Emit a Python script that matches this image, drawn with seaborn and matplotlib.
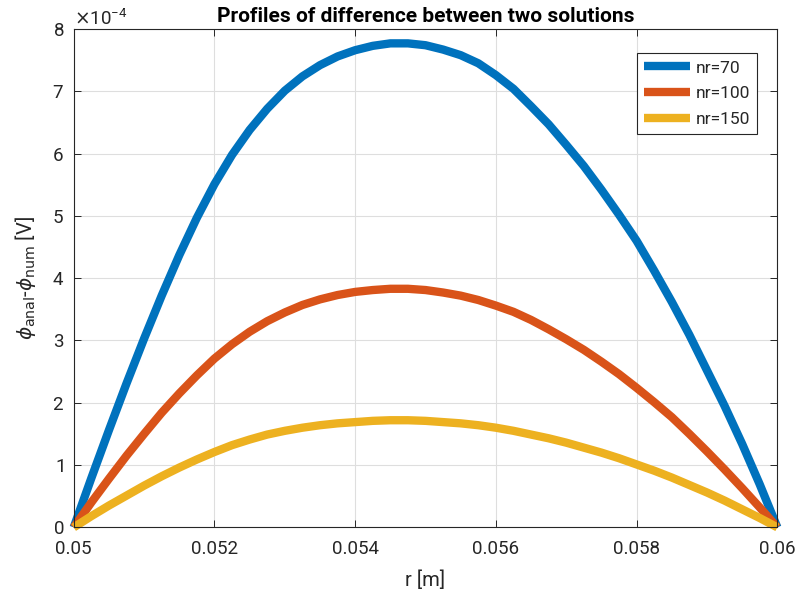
import matplotlib
matplotlib.use("Agg")
import matplotlib.pyplot as plt
import pandas as pd
import seaborn as sns
from matplotlib.ticker import FuncFormatter, MultipleLocator

# Radial positions [m]
r = [0.05000, 0.05025, 0.05050, 0.05075, 0.05100, 0.05125, 0.05150, 0.05175,
     0.05200, 0.05225, 0.05250, 0.05275, 0.05300, 0.05325, 0.05350, 0.05375,
     0.05400, 0.05425, 0.05450, 0.05475, 0.05500, 0.05525, 0.05550, 0.05575,
     0.05600, 0.05625, 0.05650, 0.05675, 0.05700, 0.05725, 0.05750, 0.05775,
     0.05800, 0.05825, 0.05850, 0.05875, 0.05900, 0.05925, 0.05950, 0.05975,
     0.06000]

# phi_anal - phi_num, in units of 1e-4 V, for each grid resolution
diff_nr70 = [0.00, 0.79, 1.56, 2.31, 3.03, 3.72, 4.37, 4.97, 5.51, 5.98, 6.38,
             6.72, 7.01, 7.24, 7.42, 7.56, 7.66, 7.73, 7.77, 7.77, 7.74, 7.67,
             7.58, 7.45, 7.26, 7.04, 6.76, 6.47, 6.14, 5.80, 5.42, 5.02, 4.60,
             4.12, 3.62, 3.09, 2.52, 1.95, 1.34, 0.69, 0.00]
diff_nr100 = [0.00, 0.40, 0.78, 1.15, 1.50, 1.84, 2.15, 2.44, 2.71, 2.94, 3.14,
              3.31, 3.45, 3.57, 3.66, 3.73, 3.78, 3.81, 3.83, 3.83, 3.81, 3.77,
              3.72, 3.65, 3.56, 3.46, 3.33, 3.18, 3.02, 2.85, 2.66, 2.46, 2.24,
              2.01, 1.77, 1.50, 1.22, 0.93, 0.63, 0.32, 0.00]
diff_nr150 = [0.00, 0.18, 0.35, 0.51, 0.67, 0.82, 0.96, 1.09, 1.21, 1.32, 1.41,
              1.49, 1.55, 1.60, 1.64, 1.67, 1.69, 1.71, 1.72, 1.72, 1.71, 1.69,
              1.67, 1.64, 1.60, 1.55, 1.49, 1.43, 1.36, 1.28, 1.20, 1.11, 1.01,
              0.91, 0.80, 0.68, 0.56, 0.43, 0.29, 0.15, 0.00]
scale = 1e-4

series_labels = ["nr=70", "nr=100", "nr=150"]
series_colors = ["#0072BD", "#D95319", "#EDB120"]
x_ticks = [0.050, 0.052, 0.054, 0.056, 0.058, 0.060]

df = pd.DataFrame({
    "r": r * 3,
    "diff": [v * scale for v in diff_nr70 + diff_nr100 + diff_nr150],
    "series": [series_labels[0]] * len(r) + [series_labels[1]] * len(r)
              + [series_labels[2]] * len(r),
})

sns.set_theme(style="white")
plt.rcParams["font.family"] = ["Roboto", "DejaVu Sans"]
plt.rcParams["mathtext.fontset"] = "dejavusans"
plt.rcParams["axes.unicode_minus"] = False

dark = "#262626"
fig = plt.figure(figsize=(7.98, 6.01), dpi=100)
fig.patch.set_facecolor("white")
ax = fig.add_axes([0.0924, 0.1225, 0.8817, 0.8292])

sns.lineplot(data=df, x="r", y="diff", hue="series", hue_order=series_labels,
             palette=series_colors, linewidth=6.0, estimator=None, sort=False,
             ax=ax)
for ln in ax.get_lines():
    ln.set_clip_on(False)
    ln.set_solid_capstyle("butt")
    ln.set_solid_joinstyle("round")

ax.set_xlim(0.05, 0.06)
ax.set_ylim(0, 8e-4)
ax.set_xticks(x_ticks)
ax.xaxis.set_major_formatter(FuncFormatter(lambda v, p: f"{v:g}"))
ax.yaxis.set_major_locator(MultipleLocator(1e-4))
ax.ticklabel_format(axis="y", style="sci", scilimits=(0, 0), useMathText=True)

ax.grid(True, color="#dedede", linewidth=0.8)
ax.set_axisbelow(True)
for sp in ax.spines.values():
    sp.set_color(dark)
    sp.set_linewidth(0.8)
    sp.set_visible(True)

ax.tick_params(axis="both", direction="in", length=5, width=0.7, color=dark,
               labelcolor=dark, labelsize=13.5, top=True, right=True,
               bottom=True, left=True)
ax.tick_params(axis="x", pad=9)
ax.tick_params(axis="y", pad=7)
ax.yaxis.get_offset_text().set_fontsize(13.5)
ax.yaxis.get_offset_text().set_color(dark)

ax.set_title("Profiles of difference between two solutions", fontsize=15,
             fontweight="bold", color="black", pad=5)
ax.set_xlabel("r [m]", fontsize=14.5, color=dark, labelpad=9)
ax.set_ylabel(r"$\phi_{\mathrm{anal}}$-$\phi_{\mathrm{num}}$ [V]", fontsize=14.5,
              color=dark, labelpad=10)

leg = ax.legend(loc="upper right", bbox_to_anchor=(0.971, 0.951),
                borderaxespad=0, frameon=True, fancybox=False,
                edgecolor=dark, framealpha=1, fontsize=12.5,
                handlelength=2.65, handletextpad=0.3, labelspacing=0.62,
                borderpad=0.4, title=None)
leg.get_frame().set_linewidth(0.8)
for h in leg.get_lines():
    h.set_linewidth(6.0)
    h.set_solid_capstyle("butt")

fig.savefig("out.png", dpi=100, facecolor="white")
